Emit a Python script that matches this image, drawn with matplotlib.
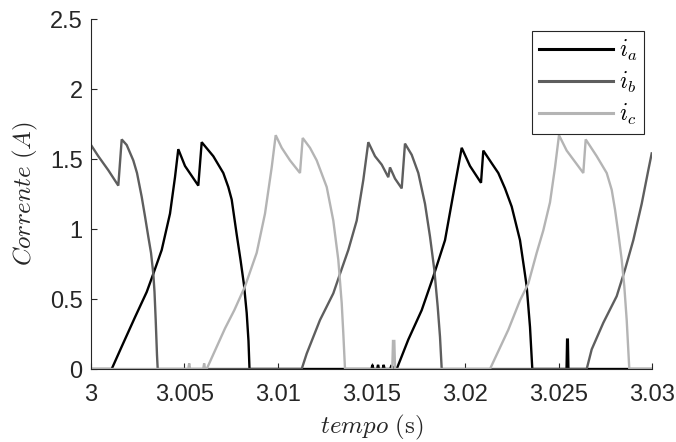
import matplotlib
matplotlib.use("Agg")
import matplotlib.pyplot as plt
import numpy as np

# ---- data (time offsets in ms from t = 3 s, current in A) ----
ia_t = [0.0, 1.107, 1.642, 2.353, 2.979, 3.332, 3.781, 4.225, 4.492, 4.668, 5.027, 5.738, 5.920,
        6.540, 7.075, 7.342, 7.524, 7.792, 7.995, 8.182, 8.326, 8.422, 8.476,
        15.00, 15.05, 15.10, 15.30, 15.35, 15.40, 15.60, 15.65, 15.70, 16.00, 16.05,
        16.348, 16.968, 17.684, 18.305, 18.931, 19.374, 19.824, 20.267, 20.856, 20.979, 21.427,
        21.781, 22.139, 22.497, 22.941, 23.171, 23.299, 23.476, 23.599,
        25.43, 25.46, 25.50, 25.53, 30.0]
ia_v = [0.0, 0.0, 0.16, 0.37, 0.55, 0.68, 0.85, 1.11, 1.37, 1.57, 1.45, 1.31, 1.62,
        1.52, 1.40, 1.30, 1.21, 0.96, 0.78, 0.60, 0.40, 0.20, 0.0,
        0.0, 0.03, 0.0, 0.0, 0.03, 0.0, 0.0, 0.03, 0.0, 0.0, 0.02,
        0.0, 0.21, 0.42, 0.66, 0.92, 1.25, 1.58, 1.45, 1.33, 1.56, 1.47,
        1.40, 1.29, 1.16, 0.92, 0.71, 0.59, 0.30, 0.0,
        0.0, 0.21, 0.21, 0.0, 0.0]

ib_t = [0.0, 0.39, 0.925, 1.460, 1.642, 1.909, 2.262, 2.460, 2.711, 2.888, 3.064, 3.209,
        3.332, 3.396, 3.460, 3.529, 3.567,
        11.267, 11.535, 12.246, 12.957, 13.316, 13.760, 14.209, 14.562, 14.829, 15.187,
        15.545, 15.898, 15.989, 16.257, 16.615, 16.791, 17.150, 17.503, 17.861, 18.129,
        18.358, 18.540, 18.663, 18.754,
        26.508, 26.775, 27.396, 28.112, 28.556, 29.000, 29.449, 29.802, 29.984]
ib_v = [1.60, 1.52, 1.42, 1.31, 1.64, 1.60, 1.49, 1.40, 1.23, 1.09, 0.945, 0.83,
        0.68, 0.55, 0.35, 0.10, 0.0,
        0.0, 0.11, 0.35, 0.54, 0.68, 0.85, 1.06, 1.35, 1.62, 1.52,
        1.46, 1.37, 1.44, 1.36, 1.29, 1.61, 1.53, 1.40, 1.18, 0.945,
        0.71, 0.445, 0.23, 0.0,
        0.0, 0.14, 0.33, 0.52, 0.71, 0.92, 1.18, 1.42, 1.54]

ic_t = [0.0, 5.20, 5.25, 5.30, 6.00, 6.05, 6.10,
        6.187, 7.166, 7.663, 8.235, 8.861, 9.305, 9.663, 9.877, 10.198, 10.642, 11.176, 11.321,
        11.711, 12.070, 12.605, 12.781, 12.957, 13.225, 13.407, 13.492, 13.583,
        16.11, 16.15, 16.22, 16.26,
        21.337, 22.316, 22.941, 23.385, 23.834, 24.187, 24.545, 24.813, 25.027, 25.438, 26.326,
        26.455, 27.043, 27.578, 27.845, 28.021, 28.198, 28.380, 28.519, 28.647, 28.786, 30.0]
ic_v = [0.0, 0.0, 0.04, 0.0, 0.0, 0.04, 0.0,
        0.0, 0.29, 0.42, 0.59, 0.83, 1.11, 1.44, 1.67, 1.58, 1.49, 1.40, 1.65,
        1.58, 1.49, 1.30, 1.18, 1.06, 0.78, 0.47, 0.255, 0.0,
        0.0, 0.20, 0.20, 0.0,
        0.0, 0.28, 0.49, 0.61, 0.83, 0.99, 1.19, 1.44, 1.67, 1.56, 1.40,
        1.64, 1.52, 1.40, 1.28, 1.14, 0.97, 0.78, 0.59, 0.35, 0.0, 0.0]

labels = [r'$i_a$', r'$i_b$', r'$i_c$']
colors = ['#000000', '#5e5e5e', '#b4b4b4']
x_ticks = [3.0, 3.005, 3.01, 3.015, 3.02, 3.025, 3.03]
x_ticklabels = ['3', '3.005', '3.01', '3.015', '3.02', '3.025', '3.03']
y_ticks = [0, 0.5, 1, 1.5, 2, 2.5]
y_ticklabels = ['0', '0.5', '1', '1.5', '2', '2.5']

plt.rcParams['mathtext.fontset'] = 'cm'
plt.rcParams['font.family'] = ['Liberation Sans', 'DejaVu Sans']

fig = plt.figure(figsize=(6.76, 4.42), dpi=100)
ax = fig.add_axes([91/676, 73/442, 561/676, 350/442])

series = [(ia_t, ia_v), (ib_t, ib_v), (ic_t, ic_v)]
for (t, v), lab, c in zip(series, labels, colors):
    tt = 3.0 + np.array(t) / 1000.0
    ax.plot(tt, v, color=c, lw=1.7, label=lab, solid_joinstyle='miter')

ax.set_xlim(3.0, 3.03)
ax.set_ylim(0, 2.5)
ax.set_xticks(x_ticks)
ax.set_xticklabels(x_ticklabels)
ax.set_yticks(y_ticks)
ax.set_yticklabels(y_ticklabels)

axc = '#262626'
for s in ['top', 'right']:
    ax.spines[s].set_visible(False)
for s in ['left', 'bottom']:
    ax.spines[s].set_color(axc)
    ax.spines[s].set_linewidth(0.8)
ax.tick_params(direction='in', length=4, width=0.8, colors=axc, labelsize=17,
               labelcolor=axc)
ax.tick_params(axis='x', pad=11)
ax.tick_params(axis='y', pad=6)

ax.set_xlabel(r'$tempo\ (\mathrm{s})$', fontsize=18, color=axc, labelpad=5)
ax.set_ylabel(r'$Corrente\ (A)$', fontsize=18, color=axc, labelpad=7)

leg = ax.legend(loc='upper right', bbox_to_anchor=(0.9857, 0.9657), borderaxespad=0,
                fontsize=17, handlelength=3.1, handletextpad=0.25, labelspacing=0.3,
                fancybox=False, framealpha=1, edgecolor=axc, borderpad=0.3)
leg.get_frame().set_linewidth(0.8)
for line in leg.get_lines():
    line.set_linewidth(2.2)

fig.savefig('out.png', dpi=100)
